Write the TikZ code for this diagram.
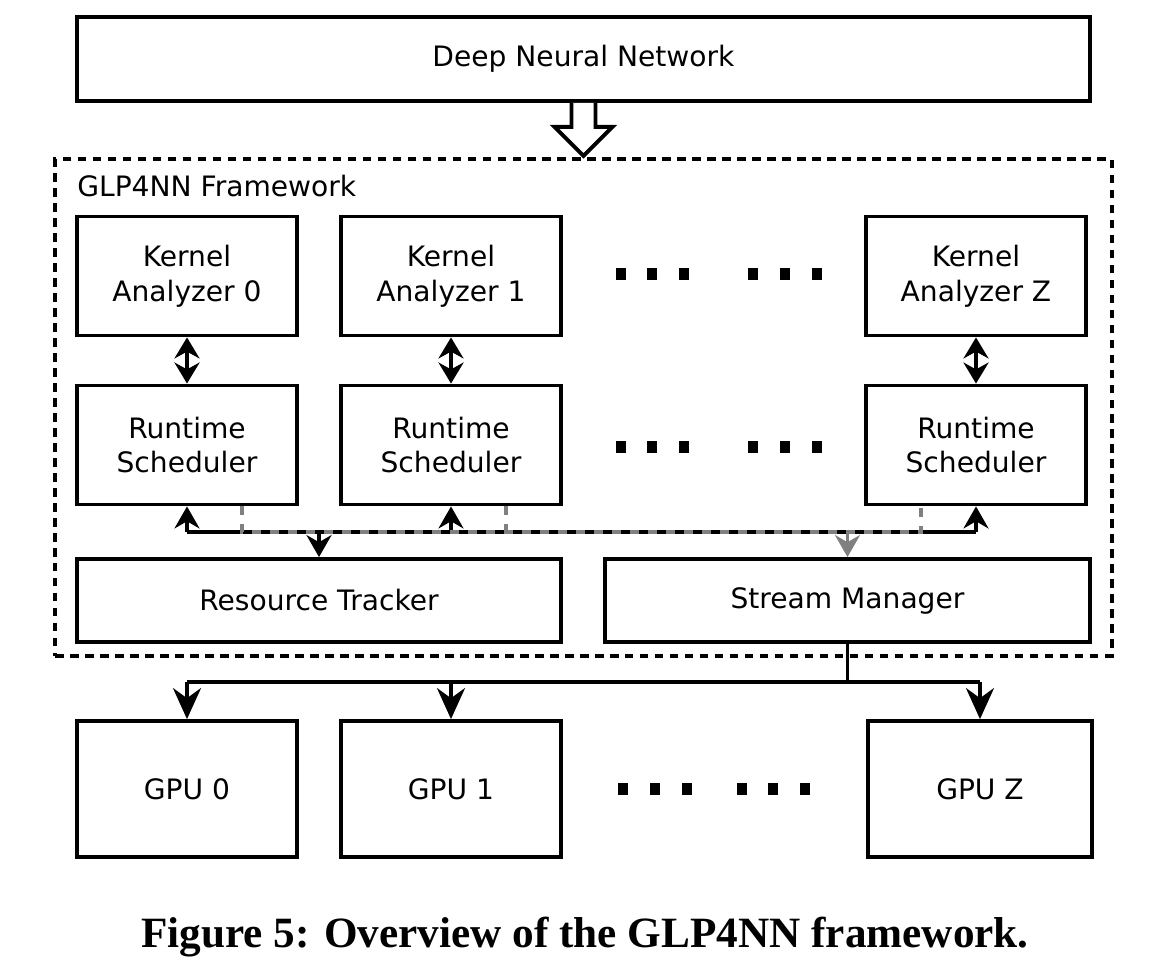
\documentclass[tikz,border=0pt]{standalone}
\usepackage{fontspec}
\setsansfont{DejaVu Sans}
\newfontfamily\capfont{Liberation Serif}
\usetikzlibrary{arrows.meta}
\tikzset{
  box/.style={draw, line width=2.2pt, fill=white, align=center, inner sep=0pt,
    font=\sffamily\fontsize{16}{19.9}\selectfont},
  frame/.style={draw, line width=2.2pt, dash pattern=on 0.17cm off 0.13cm},
  link/.style={line width=2pt},
  arr/.style={link, -{Stealth[length=0.44cm,width=0.5cm]}},
  twoway/.style={link, {Stealth[length=0.42cm,width=0.5cm]}-{Stealth[length=0.42cm,width=0.5cm]}},
  gpuarr/.style={link, -{Stealth[length=0.62cm,width=0.56cm]}},
  gline/.style={line width=2pt, gray, dash pattern=on 0.18cm off 0.18cm},
  garr/.style={line width=2pt, gray, -{Stealth[length=0.44cm,width=0.5cm]}},
  hollow/.style={draw, line width=2.2pt, fill=white, line join=miter}
}
\begin{document}
\begin{tikzpicture}[x=0.02cm,y=-0.02cm]
\useasboundingbox (0,0) rectangle (1154,978);
% top
\node[box, minimum width=20.26cm, minimum height=1.68cm] (dnn) at (583.5,59) {Deep Neural Network};
\node[frame, minimum width=21.14cm, minimum height=9.94cm] (fw) at (583.5,407.5) {};
\node[anchor=west, inner sep=0pt, font=\sffamily\fontsize{16}{19.9}\selectfont] (fwname) at (77,186) {GLP4NN Framework};
\draw[hollow] (dnn.south) ++(-12,0) -- ++(0,24) -- ++(-17,0) -- ++(29,29) -- ++(29,-29) -- ++(-17,0) -- ++(0,-24);
% analyzers and schedulers
\node[box, minimum width=4.4cm, minimum height=2.38cm] (ka0) at (187,276) {Kernel\\Analyzer 0};
\node[box, minimum width=4.4cm, minimum height=2.38cm] (ka1) at (451,276) {Kernel\\Analyzer 1};
\node[box, minimum width=4.4cm, minimum height=2.38cm] (kaz) at (976,276) {Kernel\\Analyzer Z};
\node[box, minimum width=4.4cm, minimum height=2.38cm] (rs0) at (187,445) {Runtime\\Scheduler};
\node[box, minimum width=4.4cm, minimum height=2.38cm] (rs1) at (451,445) {Runtime\\Scheduler};
\node[box, minimum width=4.4cm, minimum height=2.38cm] (rsz) at (976,445) {Runtime\\Scheduler};
\draw[twoway] (ka0) -- (rs0);
\draw[twoway] (ka1) -- (rs1);
\draw[twoway] (kaz) -- (rsz);
% tracker and manager
\node[box, minimum width=9.68cm, minimum height=1.66cm] (rt) at (319,600.5) {Resource Tracker};
\node[box, minimum width=9.7cm, minimum height=1.66cm] (sm) at (847.5,600.5) {Stream Manager};
\coordinate (busl) at (187,532);
\coordinate (busr) at (976,532);
\draw[link] (busl) -- (busr);
\draw[arr] (busl) -- (rs0.south);
\draw[arr] (rs1.south |- busl) -- (rs1.south);
\draw[arr] (busr) -- (rsz.south);
\draw[arr] (rt.north |- busl) -- (rt.north);
\draw[gline] ([xshift=1.1cm]rs0.south) |- ([xshift=-1.1cm]rsz.south |- busl) -- ([xshift=-1.1cm]rsz.south);
\draw[gline] ([xshift=1.1cm]rs1.south) -- ([xshift=1.1cm]rs1.south |- busl);
\draw[garr] (sm.north |- busl) -- (sm.north);
% gpus
\node[box, minimum width=4.4cm, minimum height=2.72cm] (gpu0) at (187,789) {GPU 0};
\node[box, minimum width=4.4cm, minimum height=2.72cm] (gpu1) at (451,789) {GPU 1};
\node[box, minimum width=4.48cm, minimum height=2.72cm] (gpuz) at (980,789) {GPU Z};
\coordinate (gbus) at (sm.south |- 0,682);
\draw[link] (sm.south) -- (gbus);
\draw[link, line width=2.4pt] (gpu0.north |- gbus) -- (gbus);
\draw[link] (gbus) -- (gpuz.north |- gbus);
\draw[gpuarr] (gpu0.north |- gbus) -- (gpu0.north);
\draw[gpuarr] (gpu1.north |- gbus) -- (gpu1.north);
\draw[gpuarr] (gpuz.north |- gbus) -- (gpuz.north);
% dots
\foreach \x in {621,652,684,753,785,817} {
  \fill (\x-5,268) rectangle (\x+5,280);
  \fill (\x-5,441) rectangle (\x+5,453);
}
\foreach \x in {623,655,687,742,773,805}
  \fill (\x-5,783) rectangle (\x+5,795);
% caption
\node[anchor=base, inner sep=0pt, font=\capfont\bfseries\fontsize{24.6}{28}\selectfont] (cap) at (585,947) {Figure 5: Overview of the GLP4NN framework.};
\end{tikzpicture}
\end{document}
